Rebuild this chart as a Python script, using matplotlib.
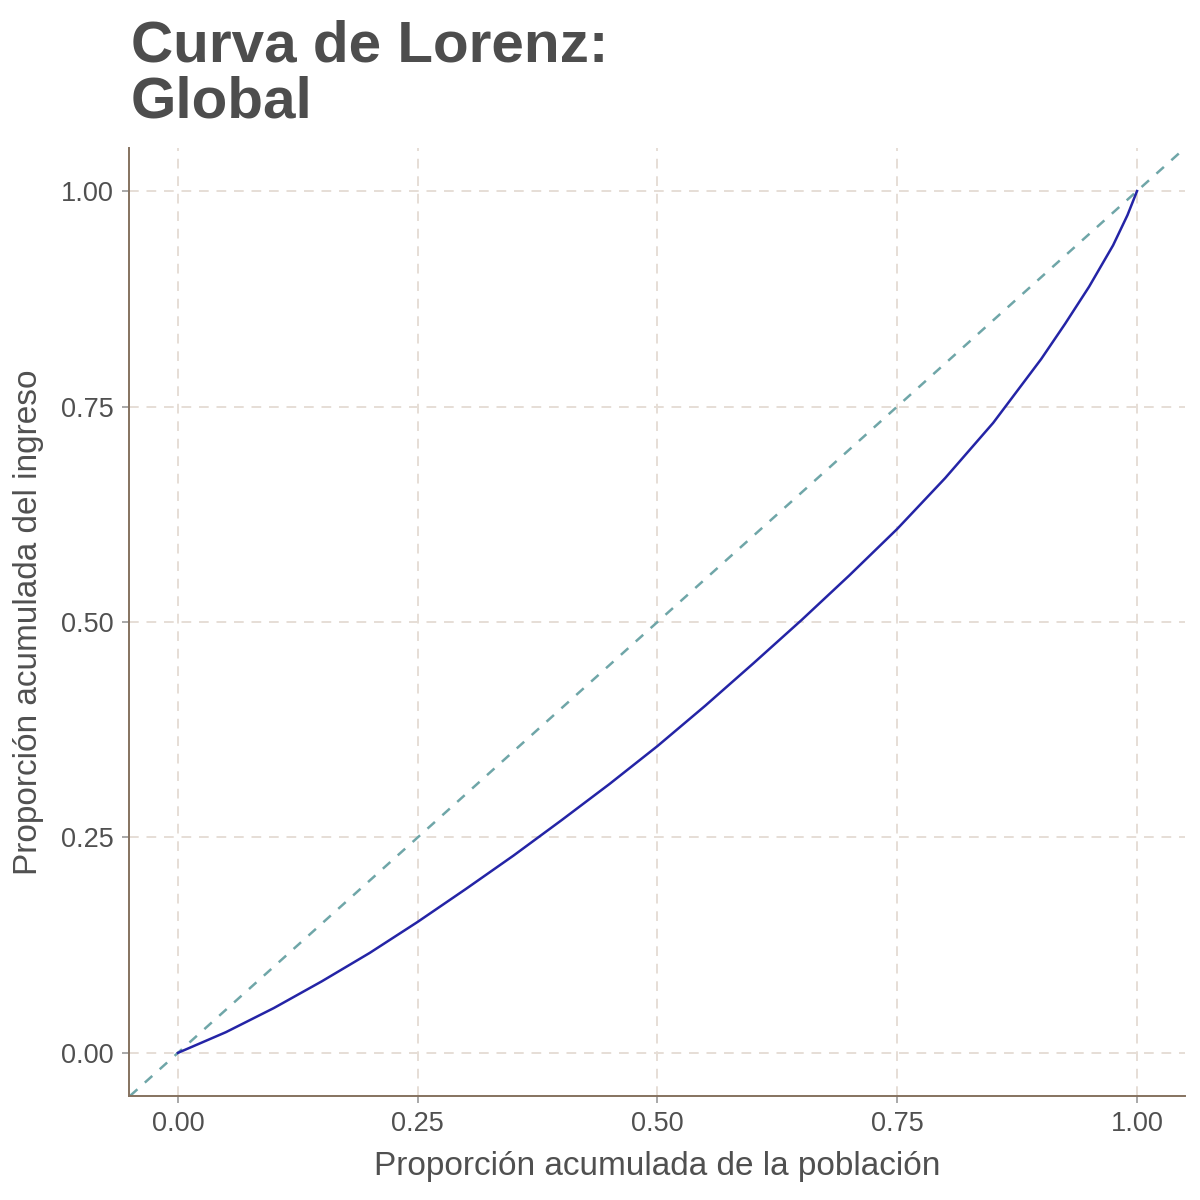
import matplotlib
matplotlib.use("Agg")
import matplotlib.pyplot as plt

poblacion = [0.0, 0.05, 0.10, 0.15, 0.20, 0.25, 0.30, 0.35, 0.40, 0.45, 0.50,
             0.55, 0.60, 0.65, 0.70, 0.75, 0.80, 0.85, 0.90, 0.925, 0.95, 0.975, 0.99, 1.0]
ingreso = [0.0, 0.024, 0.052, 0.083, 0.116, 0.152, 0.190, 0.229, 0.270, 0.312, 0.356,
           0.403, 0.452, 0.502, 0.554, 0.608, 0.667, 0.731, 0.805, 0.846, 0.889, 0.937, 0.972, 1.0]

ticks = [0.0, 0.25, 0.5, 0.75, 1.0]
tick_labels = ["0.00", "0.25", "0.50", "0.75", "1.00"]

titulo = ["Curva de Lorenz:", "Global"]
xlabel = "Proporción acumulada de la población"
ylabel = "Proporción acumulada del ingreso"

plt.rcParams['font.family'] = ['Liberation Sans', 'DejaVu Sans']

fig = plt.figure(figsize=(12, 12), dpi=100)
ax = fig.add_axes([0.1075, 0.0867, 0.88, 0.79])

# lineas de cuadricula
ax.grid(True, color="#e6ded6", linestyle=(0, (5, 4)), linewidth=1.4)
ax.set_axisbelow(True)

# linea de igualdad
ax.axline((0, 0), (1, 1), color="#6fa6a8", linestyle=(0, (4, 4)), linewidth=1.8)

# curva de Lorenz
ax.plot(poblacion, ingreso, color="#2424a6", linewidth=1.8)

ax.set_xlim(-0.051, 1.05)
ax.set_ylim(-0.05, 1.05)
ax.set_xticks(ticks)
ax.set_xticklabels(tick_labels)
ax.set_yticks(ticks)
ax.set_yticklabels(tick_labels)

for s in ["top", "right"]:
    ax.spines[s].set_visible(False)
for s in ["left", "bottom"]:
    ax.spines[s].set_color("#85725f")
    ax.spines[s].set_linewidth(1.4)

ax.tick_params(axis="both", colors="#9a9a9a", length=5, width=1.2, labelsize=19.5,
               labelcolor="#505050", pad=6)

ax.set_xlabel(xlabel, fontsize=24, color="#505050", labelpad=10)
ax.set_ylabel(ylabel, fontsize=24, color="#505050", labelpad=12)

# titulo en dos lineas
fig.text(0.109, 1 - 62 / 1200, titulo[0], fontsize=42, fontweight="bold",
         color="#4d4d4d", ha="left", va="baseline")
fig.text(0.109, 1 - 118 / 1200, titulo[1], fontsize=42, fontweight="bold",
         color="#4d4d4d", ha="left", va="baseline")

fig.savefig("out.png", dpi=100, facecolor="white")
